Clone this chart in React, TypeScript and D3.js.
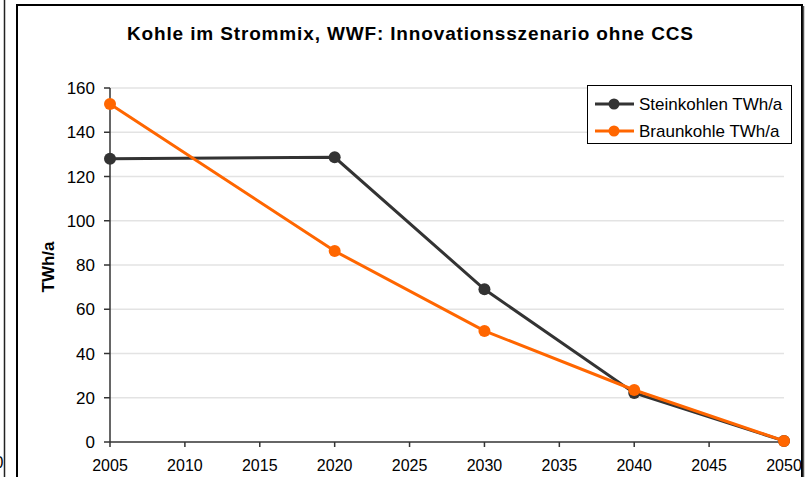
import React from "react";
import * as d3 from "d3";

const years = [2005, 2020, 2030, 2040, 2050];
const steinkohle = [128, 128.7, 69, 22.2, 0.5];
const braunkohle = [152.8, 86.3, 50.2, 23.5, 0.5];
const seriesNames = ["Steinkohlen TWh/a", "Braunkohle TWh/a"];
const seriesColors = ["#333333", "#FF6600"];
const xTicks = [2005, 2010, 2015, 2020, 2025, 2030, 2035, 2040, 2045, 2050];
const yTicks = [0, 20, 40, 60, 80, 100, 120, 140, 160];
const title = "Kohle im Strommix, WWF: Innovationsszenario ohne CCS";
const yLabel = "TWh/a";

export default function App() {
  const W = 805, H = 477;
  const x = d3.scaleLinear().domain([2005, 2050]).range([110, 784]);
  const y = d3.scaleLinear().domain([0, 160]).range([442, 88]);
  const font = "'Liberation Sans', Arial, sans-serif";
  const line = d3.line<[number, number]>().x(d => x(d[0])).y(d => y(d[1]));
  const series = [steinkohle, braunkohle].map((vals, i) => ({
    name: seriesNames[i],
    color: seriesColors[i],
    pts: years.map((yr, j) => [yr, vals[j]] as [number, number]),
  }));
  return (
    <svg width={W} height={H} style={{ position: "absolute", left: 0, top: 0, background: "#fff" }} fontFamily={font}>
      <rect x={0} y={0} width={W} height={H} fill="#fff" />
      {/* neighbouring chart edge */}
      <text x={3.5} y={468} fontSize={16} textAnchor="end" fill="#000">0</text>
      <line x1={4.5} x2={4.5} y1={0} y2={H} stroke="#222" strokeWidth={1.5} />
      {/* frame */}
      <rect x={17} y={5} width={785} height={H + 10} fill="#fff" stroke="#000" strokeWidth={2} />
      <line x1={803.5} x2={803.5} y1={6} y2={H} stroke="#555" strokeWidth={1.5} />
      {/* title */}
      <text x={410} y={40} fontSize={19} fontWeight="bold" textAnchor="middle" textLength={566} lengthAdjust="spacing">{title}</text>
      {/* grid */}
      {yTicks.filter(t => t > 0).map(t => (
        <line key={t} x1={x(2005)} x2={x(2050)} y1={y(t)} y2={y(t)} stroke="#e3e3e3" strokeWidth={1.5} />
      ))}
      {/* axes */}
      <line x1={x(2005)} x2={x(2005)} y1={y(160)} y2={y(0)} stroke="#333" strokeWidth={1.5} />
      <line x1={x(2005)} x2={x(2050)} y1={y(0)} y2={y(0)} stroke="#333" strokeWidth={1.5} />
      {yTicks.map(t => (
        <g key={t}>
          <line x1={x(2005) - 6} x2={x(2005)} y1={y(t)} y2={y(t)} stroke="#333" strokeWidth={1.5} />
          <text x={x(2005) - 15} y={y(t) + 6} fontSize={17} textAnchor="end">{t}</text>
        </g>
      ))}
      {xTicks.map(t => (
        <g key={t}>
          <line x1={x(t)} x2={x(t)} y1={y(0)} y2={y(0) + 5} stroke="#333" strokeWidth={1.5} />
          <text x={x(t)} y={471} fontSize={16} textAnchor="middle">{t}</text>
        </g>
      ))}
      <text transform={`translate(54,267) rotate(-90)`} fontSize={17} fontWeight="bold" textAnchor="middle">{yLabel}</text>
      {/* series */}
      {series.map(s => (
        <g key={s.name}>
          <path d={line(s.pts) || ""} fill="none" stroke={s.color} strokeWidth={3} />
          {s.pts.map(p => (
            <circle key={p[0]} cx={x(p[0])} cy={y(p[1])} r={6} fill={s.color} />
          ))}
        </g>
      ))}
      {/* legend */}
      <rect x={587.5} y={85.5} width={204} height={58} fill="#fff" stroke="#000" strokeWidth={1} />
      {series.map((s, i) => (
        <g key={s.name} transform={`translate(0,${104 + i * 27})`}>
          <line x1={595} x2={634} y1={0} y2={0} stroke={s.color} strokeWidth={3} />
          <circle cx={614} cy={0} r={5.5} fill={s.color} />
          <text x={639} y={6} fontSize={17}>{s.name}</text>
        </g>
      ))}
    </svg>
  );
}
